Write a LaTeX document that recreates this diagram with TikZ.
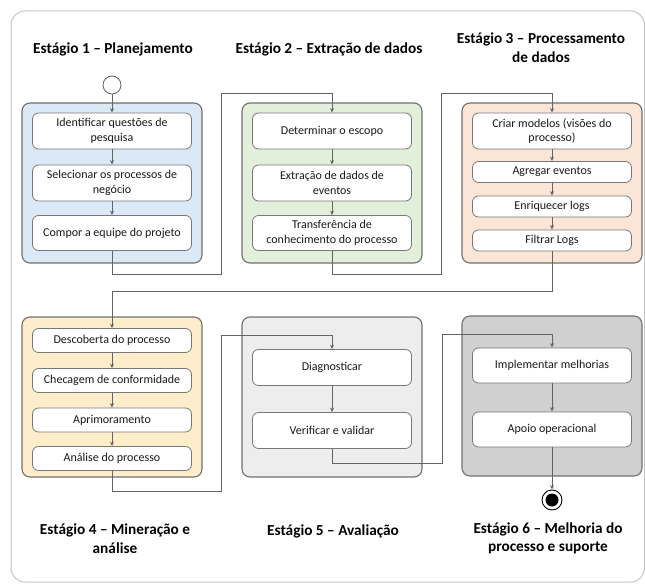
\documentclass[tikz,border=0pt]{standalone}
\usepackage{fontspec}
\setmainfont{Carlito}
\usetikzlibrary{arrows.meta}

\definecolor{framegray}{RGB}{196,196,196}
\definecolor{edgegray}{RGB}{112,112,112}
\definecolor{boxgray}{RGB}{120,120,120}
\definecolor{linegray}{RGB}{100,100,100}
\definecolor{textcol}{RGB}{25,25,25}
\definecolor{bluefill}{RGB}{219,232,246}
\definecolor{greenfill}{RGB}{226,239,218}
\definecolor{orangefill}{RGB}{251,229,214}
\definecolor{yellowfill}{RGB}{253,237,203}
\definecolor{lightfill}{RGB}{237,237,237}
\definecolor{darkfill}{RGB}{208,208,208}

\begin{document}
\begin{tikzpicture}[x=1pt,y=-1pt,
  stage/.style={draw=edgegray, line width=1.1pt, rounded corners=8pt,
    minimum width=180pt, minimum height=160pt, inner sep=0pt},
  task/.style={draw=boxgray, line width=0.8pt, fill=white, rounded corners=6pt,
    minimum width=159pt, inner sep=0pt, align=center,
    font=\fontsize{12}{14.5}\selectfont, text=textcol},
  title/.style={font=\fontsize{15.3}{18.5}\selectfont\bfseries, align=center, text=black},
  flow/.style={draw=linegray, line width=0.8pt, -{Stealth[length=4.5pt,width=4pt]}},
]
\useasboundingbox (0,0) rectangle (645,588);

% outer frame
\draw[framegray, line width=1pt, rounded corners=14pt] (11,11) rectangle (644.5,582);

% stage titles
\node[title] (t1) at (113,49) {Estágio 1 – Planejamento};
\node[title] (t2) at (329,49) {Estágio 2 – Extração de dados};
\node[title] (t3) at (541,47.5) {Estágio 3 – Processamento\\de dados};
\node[title] (t4) at (115,538.5) {Estágio 4 – Mineração e\\análise};
\node[title] (t5) at (333,531) {Estágio 5 – Avaliação};
\node[title] (t6) at (548,538.5) {Estágio 6 – Melhoria do\\processo e suporte};

% stage containers
\node[stage, fill=bluefill]   (st1) at (112,183) {};
\node[stage, fill=greenfill]  (st2) at (332,183) {};
\node[stage, fill=orangefill] (st3) at (552,183) {};
\node[stage, fill=yellowfill] (st4) at (112,397) {};
\node[stage, fill=lightfill]  (st5) at (332,397) {};
\node[stage, fill=darkfill]   (st6) at (552,396) {};

% stage 1
\node[task, minimum height=36pt] (s1a) at (112,131) {Identificar questões de\\pesquisa};
\node[task, minimum height=36pt] (s1b) at (112,183) {Selecionar os processos de\\negócio};
\node[task, minimum height=35pt] (s1c) at (112,233) {Compor a equipe do projeto};

% stage 2
\node[task, minimum height=36pt] (s2a) at (332,131) {Determinar o escopo};
\node[task, minimum height=36pt] (s2b) at (332,183) {Extração de dados de\\eventos};
\node[task, minimum height=35pt] (s2c) at (332,233) {Transferência de\\conhecimento do processo};

% stage 3
\node[task, minimum height=36pt] (s3a) at (552,131) {Criar modelos (visões do\\processo)};
\node[task, minimum height=21pt] (s3b) at (552,172) {Agregar eventos};
\node[task, minimum height=21pt] (s3c) at (552,206.5) {Enriquecer logs};
\node[task, minimum height=21pt] (s3d) at (552,240.5) {Filtrar Logs};

% stage 4
\node[task, minimum height=24pt] (s4a) at (112,340.5) {Descoberta do processo};
\node[task, minimum height=24pt] (s4b) at (112,380.5) {Checagem de conformidade};
\node[task, minimum height=24pt] (s4c) at (112,420) {Aprimoramento};
\node[task, minimum height=24pt] (s4d) at (112,458.5) {Análise do processo};

% stage 5
\node[task, minimum height=36pt] (s5a) at (332,367.5) {Diagnosticar};
\node[task, minimum height=36pt] (s5b) at (332,430.5) {Verificar e validar};

% stage 6
\node[task, minimum height=35pt] (s6a) at (552,365.5) {Implementar melhorias};
\node[task, minimum height=35pt] (s6b) at (552,429.5) {Apoio operacional};

% start and end states
\node[circle, draw=linegray, line width=0.8pt, fill=white, minimum size=18pt, inner sep=0pt] (start) at (112,85) {};
\node[circle, draw=black, line width=0.9pt, fill=white, minimum size=20pt, inner sep=0pt] (stop) at (552,500) {};
\node[circle, fill=black, minimum size=13pt, inner sep=0pt] (stopdot) at (stop) {};

% bend points of the links between stages
\coordinate (j1a) at (221,274);
\coordinate (j1b) at (332,93);
\coordinate (j2a) at (441,274);
\coordinate (j2b) at (552,93);
\coordinate (j3a) at (112,291);
\coordinate (j4a) at (221,491);
\coordinate (j4b) at (332,335);
\coordinate (j5a) at (442,463);
\coordinate (j5b) at (552,334);

% flow inside the stages
\draw[flow] (start.south) -- (s1a.north);
\draw[flow] (s1a) -- (s1b);
\draw[flow] (s1b) -- (s1c);
\draw[flow] (s2a) -- (s2b);
\draw[flow] (s2b) -- (s2c);
\draw[flow] (s3a) -- (s3b);
\draw[flow] (s3b) -- (s3c);
\draw[flow] (s3c) -- (s3d);
\draw[flow] (s4a) -- (s4b);
\draw[flow] (s4b) -- (s4c);
\draw[flow] (s4c) -- (s4d);
\draw[flow] (s5a) -- (s5b);
\draw[flow] (s6a) -- (s6b);
\draw[flow] (s6b.south) -- (stop.north);

% links between stages
\draw[flow] (s1c.south) |- (j1a) |- (j1b) -- (s2a.north);
\draw[flow] (s2c.south) |- (j2a) |- (j2b) -- (s3a.north);
\draw[flow] (s3d.south) |- (j3a) -- (s4a.north);
\draw[flow] (s4d.south) |- (j4a) |- (j4b) -- (s5a.north);
\draw[flow] (s5b.south) |- (j5a) |- (j5b) -- (s6a.north);
\end{tikzpicture}
\end{document}
